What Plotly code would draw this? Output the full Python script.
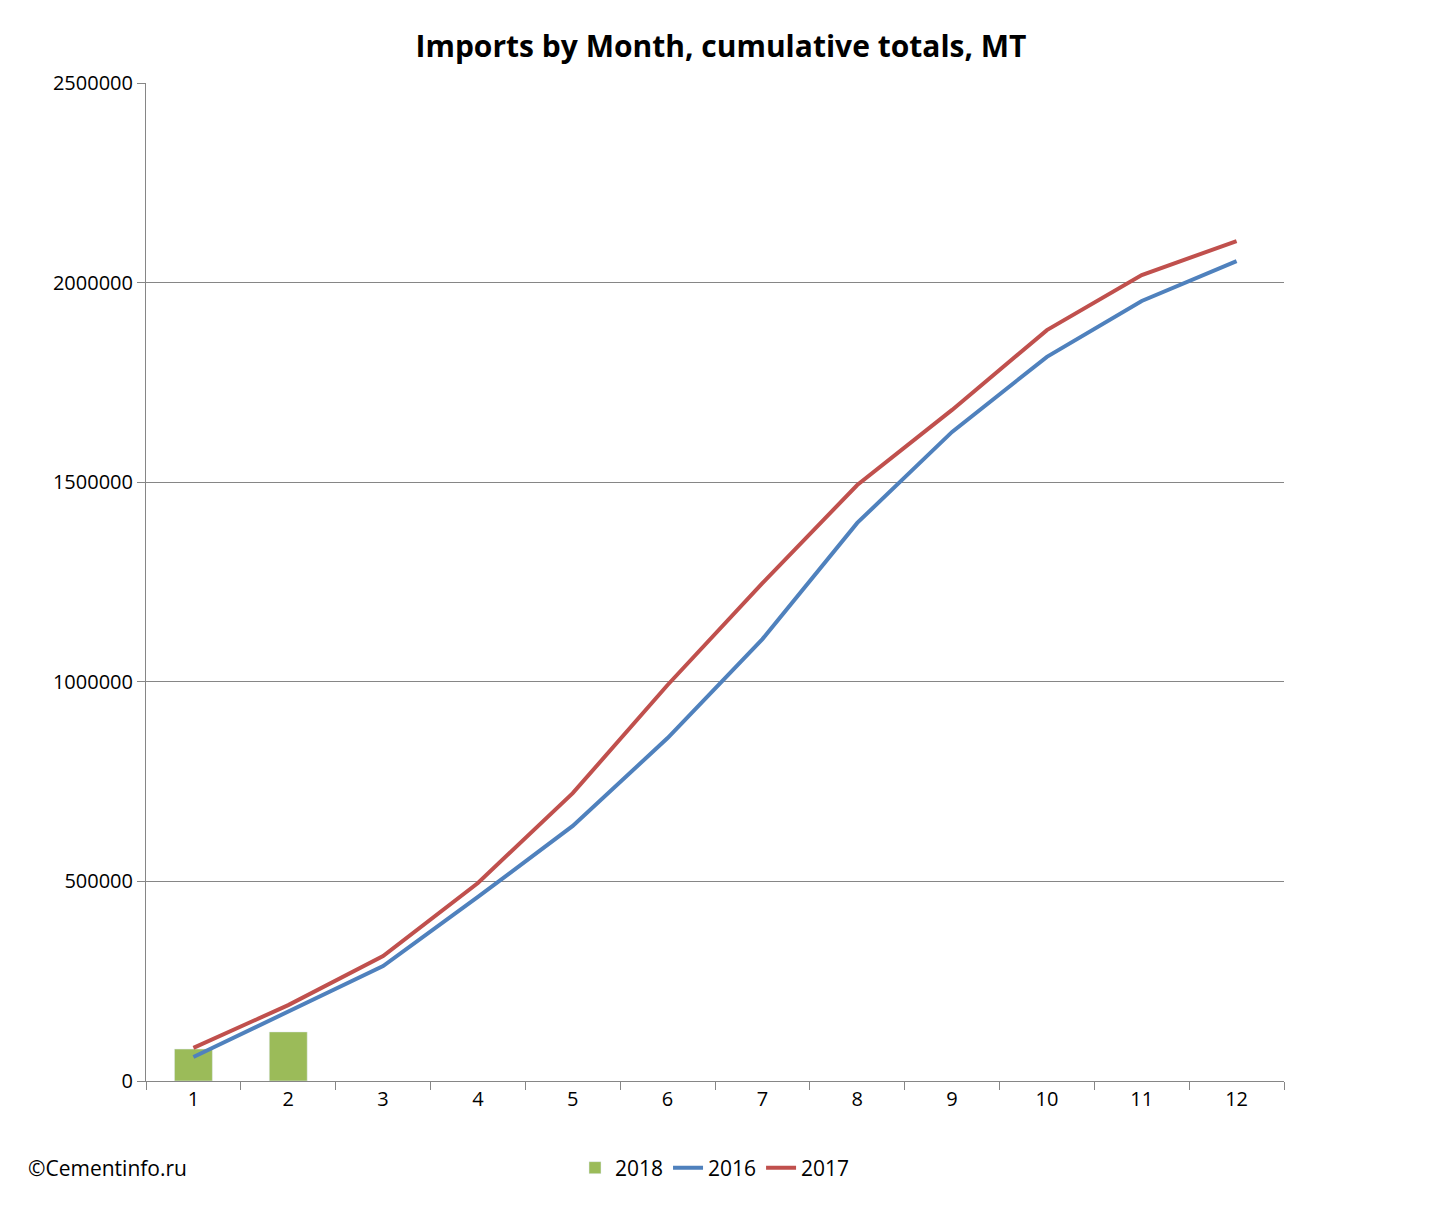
import plotly.graph_objects as go

months = [str(i) for i in range(1, 13)]
y2018 = [80000, 123000]
y2016 = [60000, 175000, 288000, 461000, 639000, 859000, 1107000, 1398000, 1626000, 1814000, 1954000, 2054000]
y2017 = [83000, 190000, 313000, 496000, 721000, 992000, 1247000, 1493000, 1681000, 1881000, 2019000, 2104000]

fig = go.Figure()
fig.add_bar(x=months[:2], y=y2018, name="2018", marker_color="#9BBB59", width=0.4)
fig.add_scatter(x=months, y=y2016, name="2016", mode="lines", line=dict(color="#4F81BD", width=4))
fig.add_scatter(x=months, y=y2017, name="2017", mode="lines", line=dict(color="#C0504D", width=4))

W, H = 1426, 1194
l, r, t, b = 138, 150, 75, 121
pw, ph = W - l - r, H - t - b
fig.update_layout(
    width=W, height=H, margin=dict(l=l, r=r, t=t, b=b),
    paper_bgcolor="white", plot_bgcolor="white",
    font=dict(family="Open Sans, Liberation Sans, sans-serif", size=20, color="black"),
    title=dict(text="<b>Imports by Month, cumulative totals, MT</b>", x=0.5, xanchor="center",
               y=1 - 38 / H, yanchor="middle", font=dict(size=30)),
    xaxis=dict(type="category", categoryorder="array", categoryarray=months, range=[-0.5, 11.5],
               tickson="boundaries", ticks="outside", ticklen=8, tickcolor="#868686",
               showline=True, linecolor="#868686", showgrid=False),
    yaxis=dict(range=[0, 2500000], dtick=500000, tickformat="d", showline=True, linecolor="#868686",
               ticks="outside", ticklen=8, tickcolor="#868686", gridcolor="#868686", zeroline=False),
    legend=dict(orientation="h", x=0.5, xanchor="center", y=-(1160 - 1073) / ph, yanchor="middle",
                font=dict(size=21)),
    showlegend=True,
)
fig.add_annotation(text="©Cementinfo.ru", xref="paper", yref="paper",
                   x=-(138 - 18) / pw, xanchor="left", y=-(1160 - 1073) / ph, yanchor="middle",
                   showarrow=False, font=dict(size=21))
fig.write_html("out.html")
